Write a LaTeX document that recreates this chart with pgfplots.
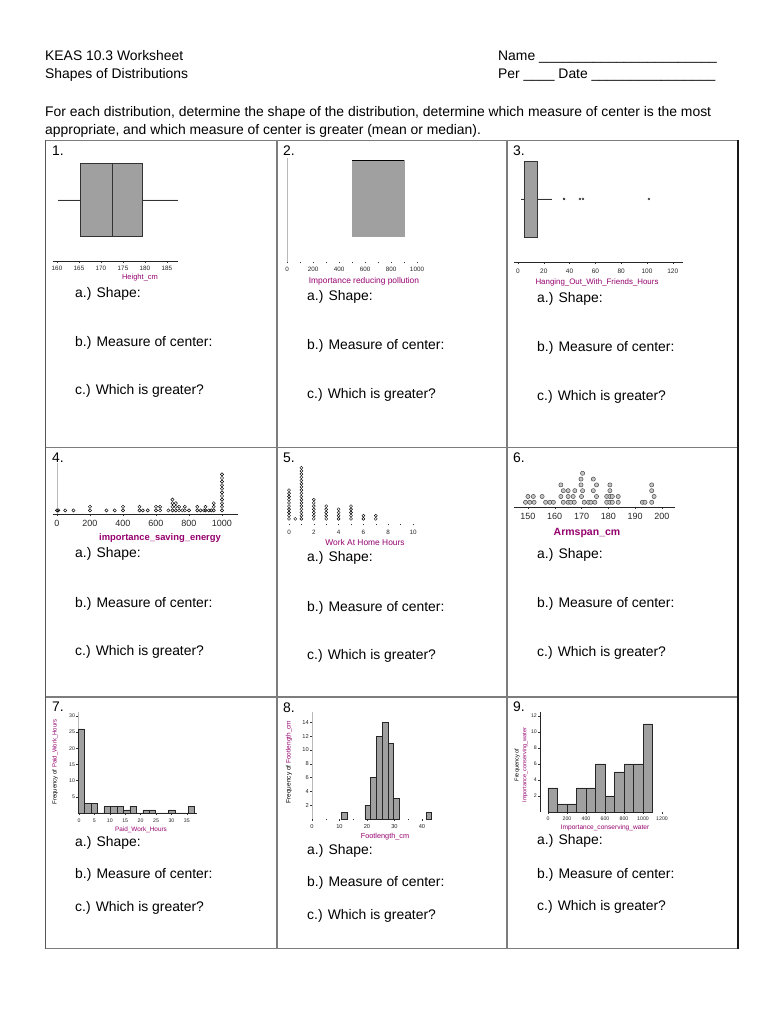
\documentclass[border=0pt]{standalone}
\usepackage{fontspec}
\setmainfont{Liberation Sans}
\usepackage{pgfplots}
\pgfplotsset{compat=1.18}
\usepgfplotslibrary{statistics}

\definecolor{lab}{RGB}{150,0,110}
\definecolor{barfill}{RGB}{160,160,160}
\definecolor{rule}{RGB}{125,125,125}

\newcommand\fs[1]{\fontsize{#1}{#1}\selectfont}

\pgfplotsset{
  mini/.style={scale only axis, anchor=south west, enlargelimits=false, clip=false,
    /pgf/number format/assume math mode=true, /pgf/number format/1000 sep={},
    ticklabel style={font=\fs{6}, text=black!85, inner sep=1pt},
    tick style={black!80, line width=0.4pt}, tick align=outside,
    major tick length=2pt, minor tick length=1.2pt,
    axis line style={-, line width=0.5pt, black!85},
  },
  box/.style={fill=barfill, draw=black!80, line width=0.6pt},
  hist/.style={ybar interval, fill=barfill, draw=black!85, line width=0.5pt},
}

\begin{document}
\begin{tikzpicture}
\path[use as bounding box, fill=white] (0,0) rectangle (770pt,1024pt);

% ---------- 1. box plot, Height_cm
\begin{axis}[mini, at={(52.6pt,763pt)}, width=125.4pt, height=111pt,
  xmin=159, xmax=187.5, ymin=0, ymax=1, axis x line*=bottom, hide y axis,
  xtick={160,165,...,185}, minor x tick num=1,
  xticklabel style={font=\fs{6.3}, yshift=-2pt}]
\addplot[box, boxplot prepared={draw direction=x, draw position=0.55,
  box extend=0.658, whisker extend=0, lower whisker=160.2, lower quartile=165.2,
  median=172.5, upper quartile=179.3, upper whisker=187.5}] coordinates {};
\end{axis}

% ---------- 2. box plot, Importance reducing pollution
\begin{axis}[mini, at={(287pt,762pt)}, width=143pt, height=104pt,
  xmin=0, xmax=1100, ymin=0, ymax=1,
  axis x line*=bottom, x axis line style={draw=none},
  axis y line*=left, y axis line style={gray!55, line width=0.7pt}, ytick=\empty,
  xtick={0,200,...,1000}, minor x tick num=1, major tick length=1.2pt,
  xticklabel style={font=\fs{6.3}, yshift=-3pt}]
\addplot[fill=barfill, draw=barfill, boxplot prepared={draw direction=x,
  draw position=0.615, box extend=0.731, whisker extend=0, lower whisker=500,
  lower quartile=500, median=900, upper quartile=900, upper whisker=900}] coordinates {};
\addplot[black, line width=0.7pt] coordinates {(500,0.9805) (900,0.9805)};
\end{axis}

% ---------- 3. box plot, Hanging_Out_With_Friends_Hours
\begin{axis}[mini, at={(514.1pt,762pt)}, width=169pt, height=104pt,
  xmin=-3, xmax=128, ymin=0, ymax=1, axis x line*=bottom, hide y axis,
  xtick={0,20,...,120}, minor x tick num=1,
  xticklabel style={font=\fs{6.5}, yshift=-4pt}]
\addplot[box, mark=o, mark size=1pt, mark options={black, line width=0.4pt},
  boxplot prepared={draw direction=x, draw position=0.606, box extend=0.731,
  whisker extend=0, lower whisker=2.3, lower quartile=4.6, median=14.6,
  upper quartile=14.7, upper whisker=26.4}]
  table[row sep=\\, y index=0] {35.7\\ 48\\ 50.4\\ 101.5\\};
\end{axis}

% ---------- 4. dot plot, importance_saving_energy
\begin{axis}[mini, at={(53pt,510pt)}, width=185pt, height=51pt,
  xmin=-24, xmax=1097, ymin=0, ymax=14.17, axis x line*=bottom, hide y axis,
  xtick={0,200,...,1000}, xticklabel style={font=\fs{9}, yshift=-3pt}]
\addplot[gray!55, line width=0.7pt] coordinates {(0,0) (0,14.17)};
\addplot[only marks, mark=o, mark size=1.6pt, mark options={black, line width=0.45pt}]
coordinates {
(0,1) (8,1) (50,1) (100,1) (200,1) (200,2) (300,1) (350,1) (400,1) (400,2)
(500,1) (500,2) (520,1) (550,1) (600,1) (600,2) (625,1) (625,2) (675,1)
(700,1) (700,2) (700,3) (700,4) (720,1) (720,2) (720,3) (740,1) (740,2)
(760,1) (775,1) (775,2) (800,1) (850,1) (850,2) (870,1) (890,1) (900,1) (900,2)
(920,1) (935,1) (950,1) (950,2) (950,3)
(1000,1) (1000,2) (1000,3) (1000,4) (1000,5) (1000,6) (1000,7) (1000,8)
(1000,9) (1000,10) (1000,11)
};
\end{axis}

% ---------- 5. dot plot, Work At Home Hours
\begin{axis}[mini, at={(282.8pt,500pt)}, width=136.4pt, height=59.5pt,
  xmin=-0.5, xmax=10.5, ymin=-0.6, ymax=18,
  axis x line*=bottom, x axis line style={draw=none}, hide y axis,
  xtick={0,2,...,10}, minor x tick num=1, major tick length=1.5pt,
  xticklabel style={font=\fs{6.3}, yshift=-3pt}]
\addplot[only marks, mark=o, mark size=1.5pt, mark options={black, line width=0.4pt}]
coordinates {
(0,1) (0,2) (0,3) (0,4) (0,5) (0,6) (0,7) (0,8) (0,9) (0,10)
(0.5,1)
(1,1) (1,2) (1,3) (1,4) (1,5) (1,6) (1,7) (1,8) (1,9) (1,10) (1,11) (1,12)
(1,13) (1,14) (1,15) (1,16) (1,17)
(2,1) (2,2) (2,3) (2,4) (2,5) (2,6) (2,7)
(3,1) (3,2) (3,3) (3,4) (3,5)
(4,1) (4,2) (4,3) (4,4)
(5,1) (5,2) (5,3) (5,4) (5,5)
(6,1) (6,2) (7,1) (7,2)
};
\end{axis}

% ---------- 6. dot plot, Armspan_cm
\begin{axis}[mini, at={(514pt,517pt)}, width=161pt, height=52pt,
  xmin=144.8, xmax=204.9, ymin=0.19, ymax=9.15, axis x line*=bottom, hide y axis,
  xtick={150,160,...,200}, minor x tick num=1,
  xticklabel style={font=\fs{9}, yshift=-3.5pt}]
\addplot[only marks, mark=*, mark size=2.1pt,
  mark options={fill=gray!45, draw=black!75, line width=0.45pt}]
coordinates {
(149.1,1) (150.7,1) (152.3,1) (156.6,1) (158.2,1) (159.5,1) (163.2,1) (165.0,1)
(166.0,1) (167.3,1) (171.0,1) (172.6,1) (173.5,1) (175.0,1) (179.4,1) (180.6,1)
(181.5,1) (183.7,1) (192.7,1) (193.7,1) (196.2,1)
(150.0,2) (152.0,2) (155.3,2) (162.3,2) (165.0,2) (166.9,2) (170.0,2) (175.6,2)
(179.4,2) (180.6,2) (181.5,2) (183.7,2) (197.1,2)
(163.2,3) (165.0,3) (167.5,3) (170.4,3) (174.4,3) (180.6,3) (196.2,3)
(162.3,4) (169.8,4) (175.6,4) (180.6,4) (196.2,4)
(169.8,5) (174.4,5)
(170.4,6)
};
\end{axis}

% ---------- 7. histogram, Paid_Work_Hours
\begin{axis}[mini, at={(78.1pt,211pt)}, width=118.6pt, height=101pt,
  xmin=-0.3, xmax=38.2, ymin=0, ymax=31.2,
  axis x line*=bottom, axis y line*=left, y axis line style={gray!55, line width=0.7pt},
  xtick={0,5,...,35}, ytick={5,10,...,30}, ticklabel style={font=\fs{5.2}},
  xticklabel style={yshift=-2.5pt}]
\addplot[hist] coordinates {
(-0.3,26) (1.8,3) (3.9,3) (6.0,0) (8.1,2) (10.2,2) (12.3,2) (14.4,1) (16.5,2)
(18.6,0) (20.7,1) (22.8,1) (24.9,0) (27.0,0) (29.1,1) (31.2,0) (33.3,0)
(35.4,2) (37.5,2)
};
\end{axis}

% ---------- 8. histogram, Footlength_cm
\begin{axis}[mini, at={(312pt,205pt)}, width=125.1pt, height=107pt,
  xmin=0, xmax=45.5, ymin=0, ymax=15.5,
  axis x line*=bottom, x axis line style={draw=none},
  axis y line*=left, y axis line style={gray!55, line width=0.7pt},
  xtick={0,10,...,40}, minor x tick num=1, ytick={2,4,...,14},
  ticklabel style={font=\fs{5.7}}, xticklabel style={yshift=-2.5pt}]
\addplot[hist] coordinates {(10.8,1) (12.9,1)};
\addplot[hist] coordinates {(19.2,2) (21.3,6) (23.4,12) (25.5,14) (27.6,11) (29.7,3) (31.8,3)};
\addplot[hist] coordinates {(41.4,1) (43.5,1)};
\end{axis}

% ---------- 9. histogram, Importance_conserving_water
\begin{axis}[mini, at={(540pt,212pt)}, width=126.75pt, height=100pt,
  xmin=-84, xmax=1250, ymin=0, ymax=12.5,
  axis x line*=bottom, x axis line style={draw=none},
  axis y line*=left, ytick={2,4,...,12}, xtick={0,200,...,1200},
  ticklabel style={font=\fs{5.2}}, xticklabel style={yshift=-2pt}]
\addplot[hist] coordinates {
(0,3) (100,1) (200,1) (300,3) (400,3) (500,6) (600,2) (700,5) (800,6) (900,6)
(1000,11) (1100,11)
};
\end{axis}

% ---------- page text, table (pixel coordinates, y down)
\begin{scope}[x=1pt, y=-1pt, yshift=1024pt, every node/.style={inner sep=0pt}]
\draw[rule, line width=1.3pt] (45,140.5) -- (738,140.5);
\draw[rule, line width=1.3pt] (45,948.5) -- (738,948.5);
\draw[rule, line width=1.3pt] (45,447.5) -- (738,447.5);
\draw[rule, line width=1.3pt] (45,697) -- (738,697);
\draw[rule!70!black, line width=1.3pt] (45.5,140) -- (45.5,949);
\draw[rule, line width=1.3pt] (277,140) -- (277,949);
\draw[rule, line width=1.3pt] (507,140) -- (507,949);
\draw[black!90, line width=1.1pt] (738,140) -- (738,949);

\begin{scope}[every node/.append style={anchor=base west, font=\fs{13.9}}]
\node at (45,61) {KEAS 10.3 Worksheet};
\node at (45,79) {Shapes of Distributions};
\node at (498,61) {Name \_\_\_\_\_\_\_\_\_\_\_\_\_\_\_\_\_\_\_\_\_\_\_};
\node at (498,79) {Per \_\_\_\_ Date \_\_\_\_\_\_\_\_\_\_\_\_\_\_\_\_};
\node at (45,117) {For each distribution, determine the shape of the distribution, determine which measure of center is the most};
\node at (45,135) {appropriate, and which measure of center is greater (mean or median).};
\node at (52,156) {1.};
\node at (283,156) {2.};
\node at (513,156) {3.};
\node at (52,463) {4.};
\node at (283,463) {5.};
\node at (513,463) {6.};
\node at (52,712) {7.};
\node at (283,713) {8.};
\node at (513,712) {9.};
% row 1
\node at (75,298) {a.) Shape:};
\node at (75,347) {b.) Measure of center:};
\node at (75,395) {c.) Which is greater?};
\node at (307,301) {a.) Shape:};
\node at (307,350) {b.) Measure of center:};
\node at (307,399) {c.) Which is greater?};
\node at (537,303) {a.) Shape:};
\node at (537,352) {b.) Measure of center:};
\node at (537,401) {c.) Which is greater?};
% row 2
\node at (75,558) {a.) Shape:};
\node at (75,608) {b.) Measure of center:};
\node at (75,656) {c.) Which is greater?};
\node at (307,562) {a.) Shape:};
\node at (307,612) {b.) Measure of center:};
\node at (307,660) {c.) Which is greater?};
\node at (537,559) {a.) Shape:};
\node at (537,608) {b.) Measure of center:};
\node at (537,657) {c.) Which is greater?};
% row 3
\node at (75,847) {a.) Shape:};
\node at (75,879) {b.) Measure of center:};
\node at (75,912) {c.) Which is greater?};
\node at (307,855) {a.) Shape:};
\node at (307,887) {b.) Measure of center:};
\node at (307,920) {c.) Which is greater?};
\node at (537,845) {a.) Shape:};
\node at (537,879) {b.) Measure of center:};
\node at (537,911) {c.) Which is greater?};
\end{scope}

% axis titles
\begin{scope}[every node/.append style={text=lab}]
\node[font=\fs{7.5}] at (140,278) {Height\_cm};
\node[font=\fs{8.4}] at (364,281) {Importance reducing pollution};
\node[font=\fs{7.9}] at (597,282) {Hanging\_Out\_With\_Friends\_Hours};
\node[font=\bfseries\fs{9.4}] at (160,538) {importance\_saving\_energy};
\node[font=\fs{8.4}] at (365,543) {Work At Home Hours};
\node[font=\bfseries\fs{10.5}] at (587,533) {Armspan\_cm};
\node[font=\fs{6.4}] at (141,830) {Paid\_Work\_Hours};
\node[font=\fs{7.3}] at (385,837) {Footlength\_cm};
\node[font=\fs{6.6}] at (605,828) {Importance\_conserving\_water};
\node[font=\fs{6}, rotate=90] at (55,762) {\textcolor{black}{Frequency of} Paid\_Work\_Hours};
\node[font=\fs{6.5}, rotate=90] at (289,762) {\textcolor{black}{Frequency of} Footlength\_cm};
\node[font=\fs{5.6}, rotate=90, align=center] at (521,765)
  {\textcolor{black}{Frequency of}\\[2pt] Importance\_conserving\_water};
\end{scope}
\end{scope}
\end{tikzpicture}
\end{document}
